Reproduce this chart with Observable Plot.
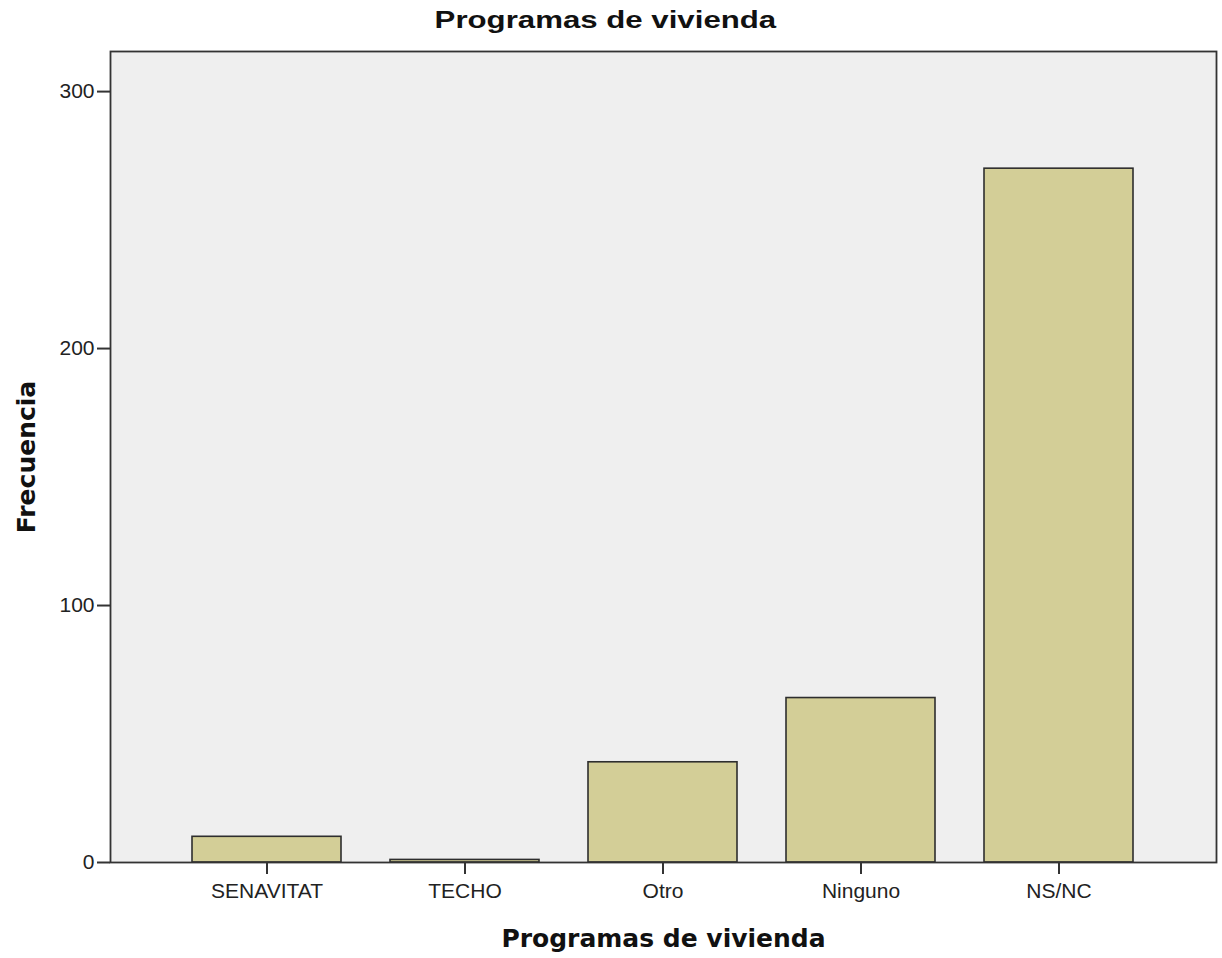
<!DOCTYPE html>
<html>
<head>
<meta charset="utf-8">
<script src="https://cdn.jsdelivr.net/npm/d3@7"></script>
<script src="https://cdn.jsdelivr.net/npm/@observablehq/plot@0.6"></script>
<style>
  body { margin: 0; background: #fff; }
  #title { width: 1222px; height: 40px; line-height: 40px; text-align: center; padding-right: 12px; box-sizing: border-box;
           font-family: "Liberation Sans", Arial, sans-serif; font-weight: bold; font-size: 24px; color: #111; }
  #title span { display: inline-block; transform: scaleX(1.3); }
</style>
</head>
<body>
<div id="title"><span>Programas de vivienda</span></div>
<div id="chart"></div>
<script>
const categories = ["SENAVITAT", "TECHO", "Otro", "Ninguno", "NS/NC"];
const frequencies = [10, 1, 39, 64, 270];
const yTicks = [0, 100, 200, 300];
const xLabel = "Programas de vivienda";
const yLabel = "Frecuencia";

const data = categories.map((c, i) => ({category: c, value: frequencies[i]}));

const chart = Plot.plot({
  width: 1222,
  height: 918,
  marginTop: 11,
  marginBottom: 96,
  marginLeft: 110,
  marginRight: 6,
  style: {fontFamily: "'Liberation Sans', Arial, sans-serif", fontSize: "20px", color: "#222", background: "#fff"},
  x: {domain: categories, paddingInner: 0.246, paddingOuter: 0.402, label: null},
  y: {domain: [0, 315.6], label: null},
  marks: [
    Plot.frame({fill: "#efefef"}),
    Plot.barY(data, {x: "category", y: "value", fill: "#d3ce97", stroke: "#2e2e2e", strokeWidth: 1.6}),
    Plot.frame({stroke: "#333", strokeWidth: 1.8}),
    Plot.axisY({ticks: yTicks, tickSize: 13, tickPadding: 3, strokeWidth: 2, stroke: "#333", label: null, fontSize: 21}),
    Plot.axisX({tickSize: 12, tickPadding: 9, strokeWidth: 2, stroke: "#333", label: null, fontSize: 21}),
    Plot.text([xLabel], {frameAnchor: "bottom", lineAnchor: "middle", textAnchor: "middle", dy: 76, text: d => d,
      fontSize: 25, fontWeight: "bold", fontFamily: "'DejaVu Sans', Verdana, sans-serif", fill: "#111"}),
    Plot.text([yLabel], {frameAnchor: "left", textAnchor: "middle", lineAnchor: "middle", dx: -84, rotate: -90, text: d => d,
      fontSize: 25, fontWeight: "bold", fontFamily: "'DejaVu Sans', Verdana, sans-serif", fill: "#111"})
  ]
});
document.getElementById("chart").appendChild(chart);
</script>
</body>
</html>
